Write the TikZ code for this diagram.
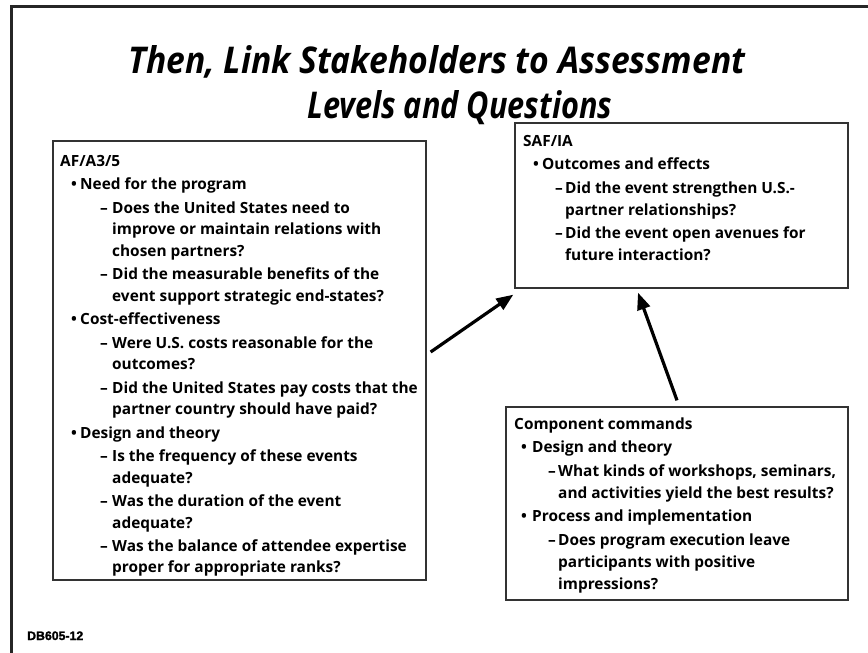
\documentclass[tikz,border=0pt]{standalone}
\usepackage{fontspec}
\usepackage{graphicx}
\setmainfont{Open Sans}
\newfontfamily\dbfont{Liberation Sans}[BoldFeatures={FakeBold=1.6}]
\usetikzlibrary{arrows.meta,calc}
\newcommand\bodyfont{\fontsize{15.4pt}{21.5pt}\selectfont\bfseries}
\newcommand\hd[1]{\noindent #1\par}
\newcommand\itA[1]{\hangindent=\tA\hangafter=1\noindent\makebox[\tA][l]{\hspace{\bA}\textbullet}#1\par}
\newcommand\itB[1]{\hangindent=\sB\hangafter=1\noindent\hspace*{\dB}\makebox[\dimexpr\sB-\dB\relax][l]{\textendash}#1\par}
\begin{document}
\begin{tikzpicture}[x=1pt,y=-1pt,
  box/.style={draw=black!80, line width=1.3pt, rectangle, inner sep=0pt},
  txt/.style={inner sep=0pt, anchor=base west},
  arr/.style={line width=3.2pt, -{Triangle[length=17pt,width=13pt]}}]
\useasboundingbox (0,0) rectangle (868,653);
\draw[line width=3pt, color=black!85] (11.5,654) -- (11.5,6.5) -- (870,6.5);

% title
\node[txt] (t1) at (128,74) {\resizebox{617pt}{28pt}{\fontsize{36pt}{40pt}\selectfont\bfseries\itshape Then, Link Stakeholders to Assessment}};
\node[txt] (t2) at (307,118) {\resizebox{305pt}{28pt}{\fontsize{36pt}{40pt}\selectfont\bfseries\itshape Levels and Questions}};

% boxes
\node[box, minimum width=373pt, minimum height=439pt] (L) at (239.5,360.5) {};
\node[box, minimum width=333pt, minimum height=165pt] (S) at (681.5,205.5) {};
\node[box, minimum width=342pt, minimum height=193pt] (C) at (677,503.5) {};

\node[txt] (Lt) at (60,166) {\parbox[t]{400pt}{\raggedright\bodyfont\parskip=2pt
\def\bA{11pt}\def\tA{20pt}\def\dB{40pt}\def\sB{52pt}%
\hd{AF/A3/5}
\itA{Need for the program}
\itB{Does the United States need to\newline improve or maintain relations with\newline chosen partners?}
\itB{Did the measurable benefits of the\newline event support strategic end-states?}
\itA{Cost-effectiveness}
\itB{Were U.S. costs reasonable for the\newline outcomes?}
\itB{Did the United States pay costs that the\newline partner country should have paid?}
\itA{Design and theory}
\itB{Is the frequency of these events\newline adequate?}
\itB{Was the duration of the event\newline adequate?}
\itB{Was the balance of attendee expertise\newline proper for appropriate ranks?}}};

\node[txt] (St) at (523,146) {\parbox[t]{400pt}{\raggedright\bodyfont\baselineskip=22pt\parskip=1.5pt
\def\bA{10pt}\def\tA{19pt}\def\dB{32pt}\def\sB{42pt}%
\hd{SAF/IA}
\itA{Outcomes and effects}
\itB{Did the event strengthen U.S.-\newline partner relationships?}
\itB{Did the event open avenues for\newline future interaction?}}};

\node[txt] (Ct) at (514,429) {\parbox[t]{400pt}{\raggedright\bodyfont\baselineskip=22pt\parskip=1.5pt
\def\bA{7pt}\def\tA{18pt}\def\dB{34pt}\def\sB{44pt}%
\hd{Component commands}
\itA{Design and theory}
\itB{What kinds of workshops, seminars,\newline and activities yield the best results?}
\itA{Process and implementation}
\itB{Does program execution leave\newline participants with positive\newline impressions?}}};

% arrows
\draw[arr] ([xshift=4pt,yshift=8.5pt]L.east) -- ([xshift=-1pt,yshift=-6pt]S.south west);
\draw[arr] ([yshift=6pt]C.north) -- ([xshift=-43.5pt,yshift=-4pt]S.south);

\node[txt] (db) at (27,640) {\dbfont\bfseries\fontsize{12.3pt}{13pt}\selectfont DB605-12};
\end{tikzpicture}
\end{document}
